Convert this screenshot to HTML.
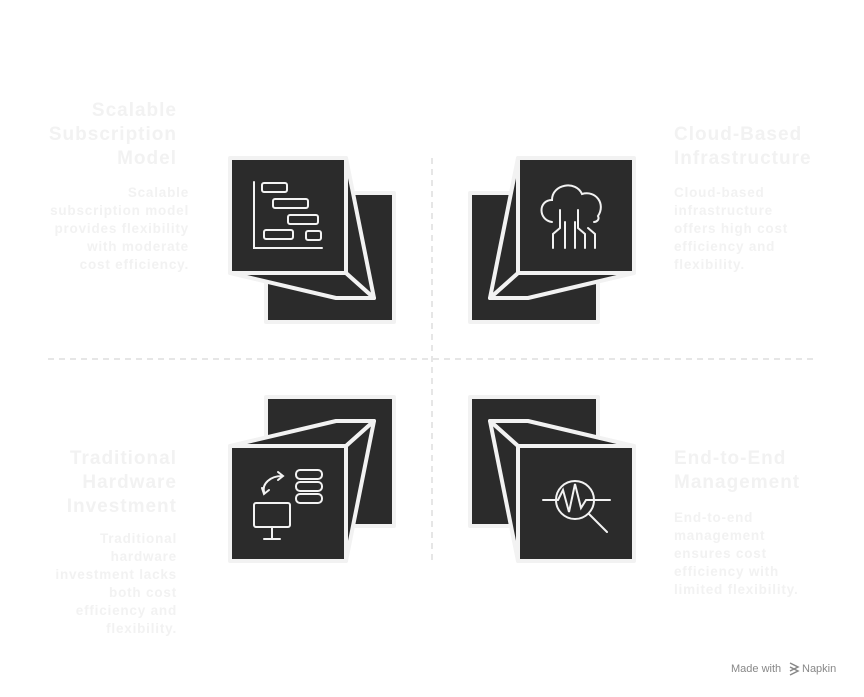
<!DOCTYPE html>
<html><head><meta charset="utf-8"><style>
html,body{margin:0;padding:0;background:#fff;}
svg{display:block;}
.t{font-family:"Liberation Sans",sans-serif;font-weight:bold;font-size:19px;fill:#f2f2f2;letter-spacing:1px;}
.d{font-family:"Liberation Sans",sans-serif;font-size:13.5px;font-weight:bold;fill:#f2f2f2;letter-spacing:0.8px;}
</style></head><body>
<svg width="864" height="697" viewBox="0 0 864 697" xmlns="http://www.w3.org/2000/svg">
<defs>
<g id="cube" stroke="#f2f2f2" stroke-width="4" stroke-linejoin="round" fill="#2b2b2b">
<rect x="266" y="193" width="128" height="129"/>
<polygon points="230,273 336,298 374,298 346,273"/>
<polygon points="346,158 374,298 346,273"/>
<rect x="230" y="158" width="116" height="115"/>
</g>
</defs>
<line x1="48" y1="359" x2="818" y2="359" stroke="#e6e6e6" stroke-width="2" stroke-dasharray="6,5"/>
<line x1="432" y1="158" x2="432" y2="565" stroke="#e6e6e6" stroke-width="2" stroke-dasharray="6,5"/>
<use href="#cube"/>
<use href="#cube" transform="translate(864,0) scale(-1,1)"/>
<use href="#cube" transform="translate(0,719) scale(1,-1)"/>
<use href="#cube" transform="translate(864,719) scale(-1,-1)"/>
<g fill="none" stroke="#f2f2f2" stroke-width="2" stroke-linecap="round">
<path d="M254 182 V248 H322"/>
<rect x="262" y="183" width="25" height="9" rx="2"/>
<rect x="273" y="199" width="35" height="9" rx="2"/>
<rect x="288" y="215" width="30" height="9" rx="2"/>
<rect x="264" y="230" width="29" height="9" rx="2"/>
<rect x="306" y="231" width="15" height="9" rx="2"/>
<path d="M552 222 C538 220 538 200 552 200 C552 184 576 180 582 194 C596 190 606 204 598 216 C600 220 596 222 594 222"/>
<path d="M553 248 V234 L560 228 V210 M565 248 V222 M575 248 V222 M585 248 V234 L578 228 V210 M595 248 V234 L588 228"/>
<circle cx="575" cy="500" r="19"/>
<path d="M543 500 H558 L563 490 L569 512 L575 484 L581 508 L586 500 H610 M589 514 L607 532"/>
<rect x="254" y="503" width="36" height="24" rx="2"/>
<path d="M272 527 V538 M264 539 H280"/>
<path d="M264 492 C262 484 270 476 282 476 M278 472 L283 476 L278 480 M262 488 L264 494 L269 490"/>
<rect x="296" y="470" width="26" height="9" rx="4"/>
<rect x="296" y="482" width="26" height="9" rx="4"/>
<rect x="296" y="494" width="26" height="9" rx="4"/>
</g>
<g class="t" text-anchor="end">
<text x="177" y="116">Scalable</text><text x="177" y="140">Subscription</text><text x="177" y="164">Model</text>
<text x="177" y="464">Traditional</text><text x="177" y="488">Hardware</text><text x="177" y="512">Investment</text>
</g>
<g class="t">
<text x="674" y="140">Cloud-Based</text><text x="674" y="164">Infrastructure</text>
<text x="674" y="464">End-to-End</text><text x="674" y="488">Management</text>
</g>
<g class="d" text-anchor="end">
<text x="189" y="197">Scalable</text><text x="189" y="215">subscription model</text><text x="189" y="233">provides flexibility</text><text x="189" y="251">with moderate</text><text x="189" y="269">cost efficiency.</text>
<text x="177" y="543">Traditional</text><text x="177" y="561">hardware</text><text x="177" y="579">investment lacks</text><text x="177" y="597">both cost</text><text x="177" y="615">efficiency and</text><text x="177" y="633">flexibility.</text>
</g>
<g class="d">
<text x="674" y="197">Cloud-based</text><text x="674" y="215">infrastructure</text><text x="674" y="233">offers high cost</text><text x="674" y="251">efficiency and</text><text x="674" y="269">flexibility.</text>
<text x="674" y="522">End-to-end</text><text x="674" y="540">management</text><text x="674" y="558">ensures cost</text><text x="674" y="576">efficiency with</text><text x="674" y="594">limited flexibility.</text>
</g>
<text x="731" y="672" font-family="Liberation Sans,sans-serif" font-size="11" fill="#888">Made with</text>
<path d="M790 663 L798 667 L790 671 M790 667 L798 671 L790 675" stroke="#888" stroke-width="1.5" fill="none"/>
<text x="802" y="672" font-family="Liberation Sans,sans-serif" font-size="11" fill="#888">Napkin</text>
</svg>
</body></html>
